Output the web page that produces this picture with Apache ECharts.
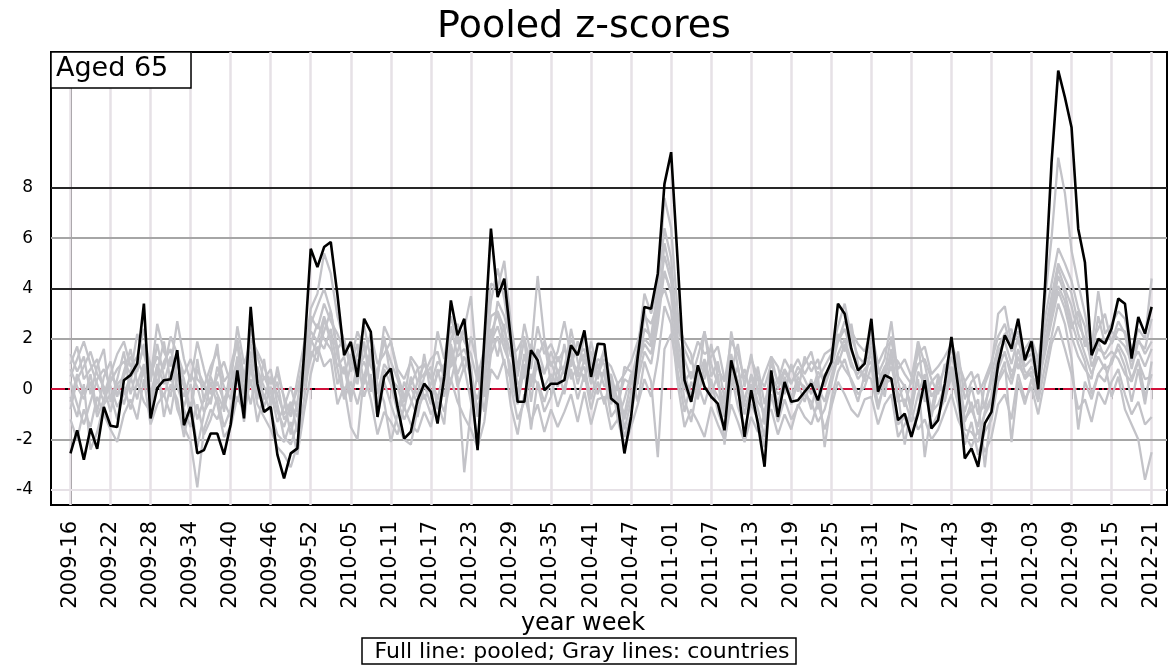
<!DOCTYPE html>
<html>
<head>
<meta charset="utf-8">
<title>Pooled z-scores</title>
<script src="https://cdn.jsdelivr.net/npm/echarts@6/dist/echarts.min.js"></script>
<style>
html, body { margin: 0; padding: 0; background: #fff; }
#chart { width: 1170px; height: 665px; }
</style>
</head>
<body>
<div id="chart"></div>
<script>
// tick labels, one every 6 weeks (week index 0 = 2009-16)
var tickLabels = ['2009-16', '2009-22', '2009-28', '2009-34', '2009-40', '2009-46', '2009-52',
	'2010-05', '2010-11', '2010-17', '2010-23', '2010-29', '2010-35', '2010-41', '2010-47',
	'2011-01', '2011-07', '2011-13', '2011-19', '2011-25', '2011-31', '2011-37', '2011-43', '2011-49',
	'2012-03', '2012-09', '2012-15', '2012-21'];
var yTicks = [-4, -2, 0, 2, 4, 6, 8];

// pooled z-score (black line), 163 weeks
var pooled = [
	-2.55, -1.63, -2.8, -1.56, -2.37, -0.7, -1.45, -1.5, 0.36, 0.56, 1.02, 3.4,
	-1.16, 0.05, 0.36, 0.4, 1.55, -1.43, -0.7, -2.55, -2.42, -1.76, -1.76, -2.6,
	-1.4, 0.75, -1.16, 3.27, 0.22, -0.9, -0.7, -2.6, -3.54, -2.55, -2.35, 1.4,
	5.58, 4.85, 5.65, 5.85, 3.75, 1.35, 1.88, 0.49, 2.8, 2.28, -1.1, 0.49,
	0.82, -0.7, -1.96, -1.69, -0.44, 0.22, -0.1, -1.36, 0.49, 3.53, 2.14, 2.8,
	0.29, -2.42, 1.94, 6.38, 3.66, 4.39, 1.94, -0.5, -0.5, 1.55, 1.15, -0.04,
	0.22, 0.22, 0.36, 1.75, 1.35, 2.34, 0.49, 1.81, 1.79, -0.37, -0.6, -2.55,
	-1.1, 1.3, 3.27, 3.2, 4.59, 8.16, 9.42, 5.0, 0.36, -0.5, 0.95, 0.1,
	-0.3, -0.57, -1.63, 1.15, 0.1, -1.89, -0.04, -1.36, -3.08, 0.75, -1.1, 0.29,
	-0.5, -0.44, -0.1, 0.22, -0.44, 0.49, 1.08, 3.4, 3.0, 1.61, 0.75, 1.02,
	2.8, -0.1, 0.56, 0.42, -1.23, -0.97, -1.89, -0.97, 0.36, -1.56, -1.23, 0.22,
	2.08, 0.1, -2.75, -2.35, -3.08, -1.36, -0.9, 1.0, 2.14, 1.61, 2.8, 1.15,
	1.9, 0.0, 4.0, 9.0, 12.66, 11.6, 10.4, 6.37, 5.05, 1.35, 2.0, 1.81,
	2.41, 3.6, 3.4, 1.22, 2.87, 2.21, 3.27
];

// country z-scores (gray lines)
var countryA = [
	0.5, 1.2, 1.9, 1.0, 0.2, -0.5, 0.3, 0.8, 1.1, 0.6, 2.2, 1.4,
	0.4, 2.6, 1.5, 0.9, 2.7, 1.2, 0.3, 1.9, 0.8, -0.2, 0.5, 1.1,
	0.2, 2.5, 1.0, 1.8, 0.7, 0.1, -0.4, 0.3, -1.2, -0.8, 0.0, 1.2,
	3.2, 3.8, 5.4, 4.6, 2.9, 1.9, 1.1, 2.3, 1.6, 0.9, 0.4, 2.5,
	1.9, 0.6, -0.3, 0.2, 0.8, 1.0, 0.4, 2.3, 1.2, 2.9, 1.8, 2.4,
	3.7, 0.5, 1.6, 4.2, 4.0, 5.1, 2.6, 0.8, 2.6, 1.4, 4.5, 2.0,
	0.9, 1.5, 2.7, 1.3, 0.6, 2.2, 1.1, 0.4, 1.6, 0.2, -0.4, -1.0,
	0.3, 1.6, 3.8, 3.0, 4.1, 7.6, 6.4, 3.0, 1.2, 0.4, 1.3, 2.3,
	1.0, 0.2, -0.6, 2.3, 0.9, -0.5, 0.6, 0.0, -1.2, 1.3, 0.2, 0.8,
	0.3, 0.6, 1.0, 1.5, 0.4, 0.9, 1.4, 2.5, 3.4, 2.1, 1.3, 1.0,
	2.0, 0.6, 1.2, 2.7, 0.5, 0.1, -0.6, 1.9, 1.0, -0.3, 0.2, 0.8,
	1.6, 0.9, -1.2, -0.8, -1.5, 0.2, 0.9, 3.0, 3.3, 1.8, 2.3, 1.4,
	1.6, 1.0, 3.5, 6.0, 9.2, 7.8, 5.5, 4.2, 3.0, 1.6, 3.9, 2.2,
	2.6, 3.1, 2.8, 1.5, 2.4, 2.0, 4.4
];
var countryB = [
	-0.8, 0.4, 0.9, 1.5, 0.6, 0.1, -0.9, 0.2, 0.5, 1.3, 0.7, 1.8,
	1.0, 0.2, 1.1, 1.6, 0.5, -0.3, 0.6, 0.1, -0.9, -0.4, 0.3, -0.5,
	-1.1, 0.9, 0.3, 2.4, 1.3, 0.4, 0.8, -0.6, -1.9, -2.2, -1.4, 0.5,
	2.6, 3.3, 4.0, 3.1, 1.6, 2.0, 0.7, 1.4, 2.5, 1.2, -0.2, 1.0,
	0.6, -0.5, -1.2, -0.6, 0.3, 1.0, 0.5, -0.4, 0.8, 2.5, 1.3, 1.6,
	0.9, -1.1, 0.7, 3.5, 4.8, 3.6, 1.7, 0.2, 0.5, 1.8, 1.1, 0.6,
	1.5, 0.7, 0.9, 2.0, 1.4, 1.6, 0.3, 1.2, 1.0, -0.6, 0.3, -1.6,
	-0.5, 0.8, 2.4, 2.1, 4.0, 6.4, 5.2, 2.0, 0.6, -0.3, 0.8, 0.4,
	1.8, 0.5, -1.1, 1.2, 0.3, -1.0, 0.2, -0.8, -1.9, 0.4, -0.6, 0.5,
	-0.3, 0.2, -0.5, 0.4, -0.8, 0.6, 0.8, 1.9, 2.4, 1.5, 0.9, 0.5,
	1.6, 0.3, 0.9, 1.2, -0.5, -0.4, -1.3, -0.2, 0.6, -0.9, -0.6, 0.1,
	1.3, 0.4, -1.6, -1.7, -2.1, -0.9, -0.3, 1.5, 1.9, 1.0, 2.1, 0.9,
	1.2, 0.6, 2.8, 4.2, 5.6, 5.0, 4.3, 3.2, 2.5, 0.9, 1.6, 1.4,
	1.9, 2.7, 2.2, 0.8, 1.9, 1.6, 2.8
];
var countryC = [
	0.3, -0.6, -1.4, -0.5, 0.4, 0.8, 0.1, -0.7, -0.2, 0.5, -0.4, 0.9,
	-0.6, 0.4, -0.3, 0.7, -0.8, -1.5, -2.1, -3.9, -1.6, -0.8, -1.2, -0.4,
	0.2, -0.5, 0.6, 1.2, -0.2, 0.5, -0.1, -1.3, -0.7, 0.1, -0.9, 0.3,
	1.2, 2.0, 1.6, 2.4, 0.8, -0.4, 0.3, -0.6, 0.5, 1.6, 0.2, -0.5,
	-2.1, -1.0, 0.3, -0.4, -1.1, 0.2, -0.6, 0.8, -0.3, 1.2, 0.5, -3.3,
	-0.8, 0.6, -0.9, 1.4, 2.1, 1.0, 0.4, -0.6, 0.9, -1.6, 0.3, -0.5,
	0.4, -0.7, 0.1, 0.8, -0.4, 0.6, -0.8, 0.3, -0.6, 0.5, -1.2, -0.4,
	0.6, -0.5, 1.1, 0.3, -2.7, 1.6, 2.2, 0.7, -0.9, 0.3, -0.4, 1.1,
	-0.2, 0.6, -2.2, 0.1, 0.9, -0.7, -0.1, 0.5, -1.4, 0.2, -0.9, 0.4,
	-0.6, 0.3, 0.1, -0.8, 0.5, -2.3, -0.4, 0.7, 1.2, 0.3, -0.5, 0.6,
	0.4, -0.8, 0.3, 0.9, -0.2, -2.2, -0.6, 0.4, -2.7, -0.8, 0.5, -0.3,
	0.6, -0.5, 0.3, -0.9, -0.4, -3.1, -0.8, 0.4, 1.1, -2.1, 0.3, -0.6,
	0.4, -0.5, 0.9, 2.1, 3.4, 2.6, 1.2, -1.6, 0.3, -0.4, 0.6, 1.0,
	-0.3, 0.5, -0.8, -1.4, -2.0, -3.6, -2.5
];
var countryD = [
	-1.2, -2.0, -0.8, -1.5, -0.3, -1.0, -1.6, -2.1, -1.0, -0.4, -1.2, 0.4,
	-1.4, -0.6, -0.2, -1.0, 0.6, -0.8, -1.5, -0.6, -1.8, -1.2, -0.3, -1.5,
	-0.8, 0.5, -1.3, 0.9, -0.6, -1.1, -1.6, -2.3, -2.6, -3.1, -2.2, -0.4,
	1.5, 1.1, 2.8, 1.9, 0.2, 0.9, -0.5, 1.2, -0.3, 0.6, -1.1, 0.3,
	-0.6, -1.4, -2.0, -2.2, -0.8, -0.2, -1.0, -0.5, -1.4, 1.6, 0.1, 0.9,
	-0.5, -1.9, 0.2, 2.4, 1.3, 2.6, 0.1, -1.2, -0.5, 0.6, 0.2, -0.9,
	-0.3, 0.8, -0.2, 1.2, 0.5, 0.9, -0.4, 0.7, 0.6, -1.1, -0.7, -1.9,
	-1.0, 0.4, 1.5, 1.0, 2.6, 4.7, 3.8, 1.4, -0.4, -1.3, 0.2, -0.6,
	0.4, -0.9, -1.6, 0.6, -0.7, -1.5, -0.6, -1.2, -2.3, -0.2, -1.3, -0.4,
	-1.2, -0.7, -0.2, -0.5, -1.3, -0.8, 0.2, 1.3, 0.8, 0.4, -0.2, 0.1,
	0.9, -0.6, 0.2, 0.4, -1.4, -1.1, -1.9, -0.8, 0.1, -1.5, -1.0, -0.4,
	0.5, -0.6, -2.2, -1.3, -2.6, -1.7, -1.2, 0.3, 0.8, 0.2, 1.3, 0.4,
	0.7, -0.3, 1.9, 3.1, 4.5, 3.8, 2.7, 1.8, 1.1, -0.2, 0.6, 0.3,
	1.2, 1.6, 0.9, -0.5, 0.8, -0.6, 1.1
];
var countryE = [
	1.0, 1.7, 0.4, 0.8, 1.2, -0.2, 0.6, 1.4, 1.9, 0.9, 1.3, 2.4,
	0.6, 1.3, 0.8, 2.1, 1.4, 0.6, 1.2, 0.4, 0.1, 0.9, 1.5, 0.3,
	0.7, 1.8, -0.2, 2.0, 1.5, 0.9, 0.2, 0.6, -0.3, -1.1, 0.4, 1.8,
	2.9, 2.4, 3.4, 2.7, 2.2, 1.5, 1.9, 0.8, 1.3, 2.2, 1.0, 1.4,
	1.9, 0.8, 0.4, 1.1, 0.3, 0.6, 1.2, 1.5, 0.4, 2.0, 2.6, 1.9,
	1.4, 0.3, 1.1, 2.9, 3.1, 2.4, 1.3, 1.6, 2.1, 0.8, 2.5, 1.4,
	1.8, 1.1, 1.6, 0.9, 1.9, 1.0, 1.5, 0.6, 1.2, 0.9, 0.2, 0.6,
	1.1, 1.9, 2.9, 2.6, 3.4, 5.3, 4.3, 2.4, 1.6, 1.0, 1.9, 1.4,
	1.6, 0.8, 0.3, 1.9, 1.4, 0.4, 1.2, 0.5, 0.1, 1.0, 0.3, 1.2,
	0.7, 1.2, 0.6, 1.1, 0.8, 1.4, 1.6, 1.9, 2.7, 2.3, 1.8, 1.5,
	2.3, 1.0, 1.6, 1.9, 0.8, 1.2, 0.5, 1.4, 1.7, 0.6, 0.9, 1.3,
	1.8, 1.1, 0.3, 0.7, -0.2, 0.4, 1.1, 2.1, 2.6, 1.5, 1.9, 1.2,
	1.4, 0.8, 2.3, 3.7, 5.0, 4.4, 3.8, 2.6, 2.0, 1.2, 2.9, 1.8,
	2.3, 2.0, 1.7, 1.1, 1.5, 0.9, 1.6
];
var countryF = [
	-0.3, -1.1, 0.2, -2.4, -1.7, -0.6, -0.2, -1.2, 0.1, -0.8, 0.3, -0.5,
	-0.9, 0.9, -1.1, 0.2, -0.4, -1.9, -0.5, -2.3, -1.0, 0.3, -0.6, -1.9,
	-1.5, -0.3, -0.9, 0.4, -1.3, -0.2, -0.9, -1.8, -2.1, -1.3, -2.6, -0.9,
	0.6, 1.7, 0.9, 1.2, -0.6, 0.1, -1.5, -2.0, 0.6, -0.4, -1.8, -0.9,
	-1.3, -1.8, -0.7, -1.4, -1.7, -0.9, -1.5, -0.2, -0.9, 0.4, -0.5, -1.1,
	-1.6, -2.3, -1.3, 0.8, 0.4, 1.2, -0.7, -1.8, -0.2, -1.3, -0.6, -1.7,
	-0.8, -1.5, -0.9, -0.2, -1.3, -0.1, -1.4, -0.4, -0.3, -1.6, -1.2, -2.3,
	-1.5, -0.6, 0.4, -0.3, 1.2, 3.3, 2.6, 0.2, -1.5, -0.8, -1.3, -1.9,
	-0.7, -1.4, -2.0, -0.6, -1.3, -2.1, -1.1, -1.7, -1.0, -0.8, -1.8, -1.0,
	-1.6, -0.6, -1.1, -1.4, -0.5, -1.6, -0.7, 0.3, -0.2, -0.8, -1.1, -0.4,
	-0.3, -1.4, -0.6, -0.2, -1.9, -1.4, -0.9, -1.6, -1.2, -2.0, -1.6, -0.9,
	-0.2, -1.2, -1.8, -2.3, -1.6, -2.5, -1.9, -0.6, -0.2, -1.2, 0.6, -0.4,
	0.1, -1.0, 0.4, 1.8, 2.5, 1.6, 0.6, -0.8, -0.4, -1.3, -0.1, -0.6,
	0.3, 0.8, -0.2, -1.0, -0.5, -1.4, -1.1
];
var countryG = [
	0.8, 0.1, -0.4, 0.6, -0.9, 0.5, 1.1, -0.3, 0.7, 1.6, 0.2, 1.0,
	0.3, 1.8, 0.5, -0.3, 1.2, 0.4, -0.9, 0.8, 0.2, -0.6, 0.9, 0.1,
	-0.4, 1.3, 0.4, -0.6, 0.9, -0.4, 0.5, -0.2, -1.0, -0.5, -1.7, 0.9,
	2.0, 1.4, 2.3, 3.1, 1.3, 0.6, 1.4, 0.2, 1.9, -0.1, 0.7, 2.1,
	0.4, 0.1, -0.8, 0.5, -0.3, 1.4, -0.2, 0.6, 1.0, 0.3, 1.5, 2.4,
	0.2, -0.4, 0.8, 1.9, 2.5, 1.6, 0.9, -0.2, 1.4, 0.1, 1.6, 0.7,
	1.1, 0.3, 1.8, 0.4, 0.9, 1.4, 0.2, 1.0, 0.1, 0.6, -0.5, 0.4,
	0.2, 1.2, 2.0, 1.7, 3.3, 4.0, 3.1, 1.0, 0.3, 0.7, 0.1, 2.3,
	0.5, 1.1, -0.4, 1.4, 0.2, 0.8, -0.3, 0.9, -0.6, 0.6, 0.0, 0.7,
	0.2, 0.9, 0.4, -0.2, 0.7, 0.3, 1.1, 1.0, 1.8, 0.9, 0.6, 1.2,
	1.3, 0.2, 0.7, 2.1, 0.3, -0.7, 0.4, 1.9, -0.5, 0.3, 0.6, -0.5,
	0.9, 0.2, -0.9, 0.1, -1.0, -0.6, 0.3, 1.2, 1.4, 0.7, 1.0, 0.5,
	0.9, 0.3, 1.4, 2.7, 3.9, 3.2, 2.1, 1.3, 0.8, 0.4, 1.9, 1.2,
	1.5, 1.2, 0.6, 0.3, 1.1, 0.4, 0.5
];
var countryH = [
	-0.5, 0.6, -0.2, 0.3, -1.1, -0.4, 0.5, 0.2, -0.6, 0.4, 1.1, 0.6,
	-0.3, 1.0, 0.2, 1.3, 0.1, -0.7, 0.2, -1.2, -0.4, 0.5, -0.2, -0.8,
	0.3, 1.1, -0.6, 1.5, 0.4, -0.7, 0.1, -0.9, -1.5, -0.6, -1.1, 0.2,
	1.8, 2.6, 2.0, 1.6, 0.9, 1.3, -0.2, 0.6, 1.1, 0.3, -0.6, 0.8,
	0.2, -0.9, -0.4, 0.1, -0.6, 0.5, 0.9, -0.8, 0.2, 1.8, 0.6, 1.3,
	0.5, -0.8, 0.4, 2.2, 3.0, 1.9, 0.7, -0.5, 1.0, 0.4, 0.9, 0.1,
	0.6, 0.1, 0.9, 1.6, 0.2, 1.2, 0.5, -0.2, 0.8, -0.4, 0.1, -1.2,
	-0.2, 0.9, 1.8, 1.4, 2.9, 5.8, 4.6, 1.6, 0.1, -0.5, 0.5, 1.2,
	0.2, -0.3, -0.8, 0.9, -0.2, -0.4, 0.5, -0.5, -0.9, 0.3, -0.2, 0.1,
	-0.4, 0.5, -0.1, 0.3, 0.1, -0.5, 0.5, 1.4, 2.0, 1.1, 0.4, 0.8,
	1.1, -0.2, 0.4, 1.6, -0.4, 0.2, -0.9, 0.7, 0.2, -1.1, 0.1, -0.2,
	0.8, -0.2, -1.3, -0.5, -1.8, -1.0, -0.5, 0.8, 1.5, 0.4, 1.6, 0.7,
	0.5, 0.2, 1.6, 3.4, 4.8, 4.0, 3.3, 2.2, 1.4, 0.6, 1.3, 0.8,
	1.0, 1.8, 1.3, 0.4, 1.2, -0.3, 0.6
];
var countryI = [
	1.4, 0.7, 1.3, -0.2, 0.9, 1.6, -0.5, 0.4, 1.5, -0.2, 0.8, 1.7,
	-0.2, 0.7, 1.9, 0.3, 1.0, 0.1, -1.1, 1.2, -0.5, 0.6, 1.8, -0.9,
	0.9, 2.0, 0.5, 1.0, -0.4, 1.2, -0.7, 0.9, -0.4, -1.8, -0.5, 1.3,
	2.3, 1.9, 2.9, 2.0, 1.7, -0.3, 1.0, 1.8, 0.2, 1.4, 0.6, 1.9,
	1.1, 0.4, -0.5, 1.3, 0.9, -0.4, 0.2, 1.1, 0.8, 0.9, 2.2, 0.7,
	2.1, 0.9, -0.3, 1.6, 3.5, 2.9, 1.9, 0.5, 2.0, -0.5, 1.3, 1.9,
	0.2, 1.3, 0.6, 2.4, 1.1, 0.3, 1.9, 0.8, 1.6, 0.1, -0.9, 0.9,
	0.7, 0.2, 3.1, 1.8, 3.7, 4.6, 3.9, 2.6, 1.9, 1.4, -0.3, 0.8,
	1.3, 1.7, 0.4, 0.7, 1.8, 0.1, 1.4, -0.2, 0.6, 1.3, 0.9, -0.2,
	1.0, -0.1, 1.3, 0.7, 1.2, 0.1, 0.9, 2.2, 1.5, 2.6, 1.0, 0.3,
	1.7, 0.9, -0.3, 1.4, 1.1, 0.6, 0.2, 1.0, 1.2, 0.4, -0.2, 1.0,
	0.4, 1.5, -0.4, 0.3, 0.6, -0.8, 0.6, 1.7, 2.2, 2.4, 0.8, 1.6,
	2.0, 1.2, 1.8, 3.0, 4.1, 3.5, 2.4, 3.1, 1.7, 1.9, 2.4, 3.0,
	1.8, 2.4, 2.3, 1.3, 2.0, 1.4, 1.9
];
var countries = [countryA, countryB, countryC, countryD, countryE, countryF, countryG, countryH, countryI];

var chart = echarts.init(document.getElementById('chart'));

var font = '"DejaVu Sans", "Liberation Sans", sans-serif';
var tickPos = tickLabels.map(function(t, k) { return k * 6; });

function toPairs(arr) {
	return arr.map(function(v, i) { return [i, v]; });
}

// grid lines drawn as marklines under the data
var gridLines = [];
tickPos.forEach(function(p) {
	gridLines.push({ xAxis: p, lineStyle: { color: '#e6e1e6', width: 2.5, type: 'solid' } });
});
var hColor = { '-4': '#e6e1e6', '-2': '#a6a6a6', '2': '#a6a6a6', '4': '#262626', '6': '#a6a6a6', '8': '#262626' };
yTicks.forEach(function(v) {
	if (v === 0) {
		gridLines.push({ yAxis: 0, lineStyle: { color: '#d0103a', width: 2, type: [14, 3, 2, 3] } });
	} else {
		gridLines.push({ yAxis: v, lineStyle: { color: hColor[String(v)], width: 2, type: 'solid' } });
	}
});

var series = [{
	name: 'grid',
	type: 'line',
	data: [],
	silent: true,
	markLine: {
		silent: true,
		z: 1,
		symbol: ['none', 'none'],
		label: { show: false },
		emphasis: { disabled: true },
		animation: false,
		data: gridLines
	}
}];
countries.forEach(function(c, k) {
	series.push({
		name: 'country' + k,
		type: 'line',
		data: toPairs(c),
		showSymbol: false,
		silent: true,
		lineStyle: { color: '#c3c3c8', width: 2.3 },
		z: 2
	});
});
series.push({
	name: 'pooled',
	type: 'line',
	data: toPairs(pooled),
	showSymbol: false,
	silent: true,
	lineStyle: { color: '#000', width: 2.6 },
	z: 3
});

var option = {
	animation: false,
	backgroundColor: '#fff',
	grid: {
		left: 51, right: 3, top: 52, bottom: 160,
		show: true, borderColor: '#000', borderWidth: 2, backgroundColor: 'transparent'
	},
	xAxis: {
		type: 'value',
		min: -2.92,
		max: 164.3,
		axisLine: { show: true, lineStyle: { color: '#000', width: 2 } },
		axisTick: { show: true, customValues: tickPos, length: 10, lineStyle: { color: '#000', width: 1.5 } },
		axisLabel: {
			customValues: tickPos,
			rotate: 90,
			margin: 16,
			color: '#000',
			fontFamily: font,
			fontSize: 21,
			formatter: function(v) { return tickLabels[Math.round(v / 6)]; }
		},
		splitLine: { show: false }
	},
	yAxis: {
		type: 'value',
		min: -4.6,
		max: 13.4,
		axisLine: { show: true, lineStyle: { color: '#000', width: 2 } },
		axisTick: { show: true, customValues: yTicks, length: 12, lineStyle: { color: '#000', width: 1.5 } },
		axisLabel: {
			customValues: yTicks,
			margin: 18,
			color: '#000',
			fontFamily: font,
			fontSize: 17
		},
		splitLine: { show: false }
	},
	graphic: [
		{ type: 'text', x: 584, y: 27, style: { text: 'Pooled z-scores', font: '38px ' + font, fill: '#000', align: 'center', verticalAlign: 'middle' } },
		{ type: 'rect', shape: { x: 51, y: 52, width: 140, height: 36 }, style: { fill: '#fff', stroke: '#000', lineWidth: 1.5 }, z: 10 },
		{ type: 'text', x: 56, y: 69, z: 11, style: { text: 'Aged 65', font: '27px ' + font, fill: '#000', align: 'left', verticalAlign: 'middle' } },
		{ type: 'text', x: 583, y: 624, style: { text: 'year week', font: '24px ' + font, fill: '#000', align: 'center', verticalAlign: 'middle' } },
		{ type: 'rect', shape: { x: 362, y: 638, width: 434, height: 26 }, style: { fill: '#fff', stroke: '#000', lineWidth: 1.5 } },
		{ type: 'text', x: 582, y: 652, z: 11, style: { text: 'Full line: pooled; Gray lines: countries', font: '22px ' + font, fill: '#000', align: 'center', verticalAlign: 'middle' } }
	],
	series: series
};

chart.setOption(option);
</script>
</body>
</html>
